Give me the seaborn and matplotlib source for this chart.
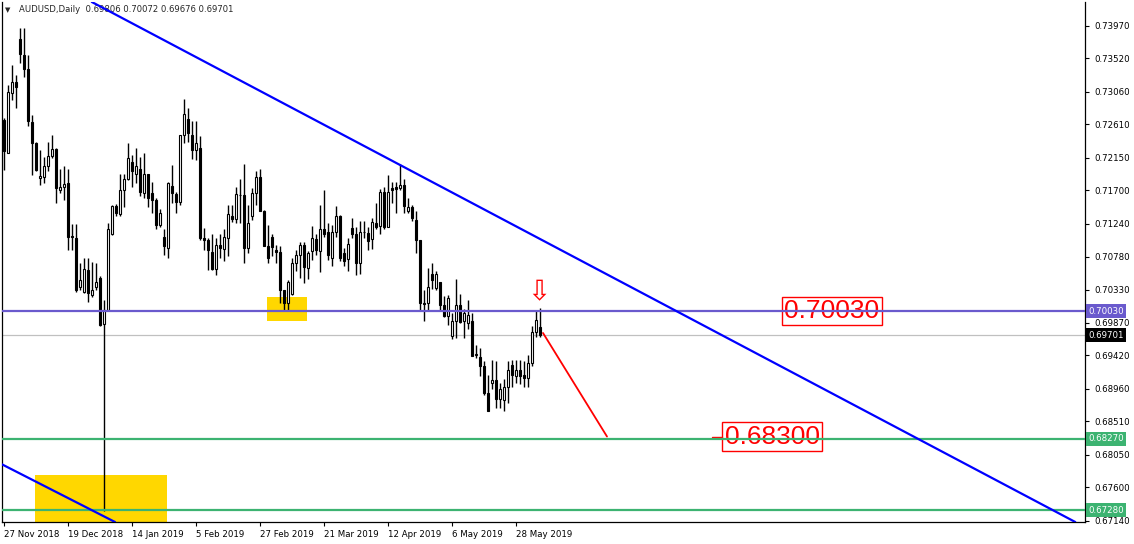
import numpy as np
import matplotlib
matplotlib.use("Agg")
import matplotlib.pyplot as plt
import matplotlib.transforms as mtransforms
from matplotlib.patches import Rectangle
import seaborn as sns

# daily AUDUSD candles, 27 Nov 2018 -> early Jun 2019
opens = [0.7267, 0.7222, 0.7304, 0.7320, 0.7379, 0.7357, 0.7337, 0.7264, 0.7236, 0.7187,
         0.7189, 0.7203, 0.7217, 0.7227, 0.7170, 0.7175, 0.7180, 0.7107, 0.7104, 0.7037,
         0.7030, 0.7060, 0.7025, 0.7037, 0.7049, 0.6985, 0.7005, 0.7109, 0.7148, 0.7137,
         0.7170, 0.7185, 0.7209, 0.7193, 0.7200, 0.7166, 0.7192, 0.7166, 0.7157, 0.7122,
         0.7106, 0.7091, 0.7176, 0.7165, 0.7154, 0.7246, 0.7268, 0.7246, 0.7226, 0.7229,
         0.7104, 0.7101, 0.7085, 0.7061, 0.7095, 0.7089, 0.7104, 0.7134, 0.7130, 0.7163,
         0.7163, 0.7090, 0.7134, 0.7166, 0.7188, 0.7142, 0.7093, 0.7106, 0.7088, 0.7085,
         0.7033, 0.7014, 0.7027, 0.7070, 0.7081, 0.7095, 0.7063, 0.7086, 0.7103, 0.7086,
         0.7116, 0.7112, 0.7076, 0.7112, 0.7135, 0.7084, 0.7075, 0.7118, 0.7110, 0.7070,
         0.7113, 0.7111, 0.7103, 0.7125, 0.7121, 0.7168, 0.7120, 0.7173, 0.7174, 0.7173,
         0.7178, 0.7142, 0.7147, 0.7129, 0.7102, 0.7014, 0.7014, 0.7055, 0.7035, 0.7043,
         0.7012, 0.6996, 0.6969, 0.6989, 0.7011, 0.6989, 0.6987, 0.6989, 0.6942, 0.6940,
         0.6928, 0.6890, 0.6904, 0.6908, 0.6882, 0.6881, 0.6898, 0.6929, 0.6913, 0.6922,
         0.6915, 0.6911, 0.6931, 0.6974, 0.69806]
highs = [0.7270, 0.7316, 0.7343, 0.7329, 0.7394, 0.7394, 0.7357, 0.7274, 0.7237, 0.7226,
         0.7216, 0.7237, 0.7247, 0.7229, 0.7200, 0.7204, 0.7200, 0.7124, 0.7124, 0.7069,
         0.7076, 0.7077, 0.7071, 0.7069, 0.7051, 0.7019, 0.7125, 0.7150, 0.7151, 0.7193,
         0.7193, 0.7235, 0.7219, 0.7228, 0.7216, 0.7221, 0.7193, 0.7181, 0.7159, 0.7144,
         0.7116, 0.7181, 0.7205, 0.7167, 0.7246, 0.7296, 0.7284, 0.7265, 0.7265, 0.7245,
         0.7118, 0.7104, 0.7109, 0.7104, 0.7109, 0.7116, 0.7150, 0.7150, 0.7174, 0.7185,
         0.7207, 0.7150, 0.7173, 0.7196, 0.7199, 0.7143, 0.7122, 0.7109, 0.7094, 0.7093,
         0.7033, 0.7046, 0.7076, 0.7088, 0.7099, 0.7099, 0.7086, 0.7121, 0.7109, 0.7150,
         0.7170, 0.7125, 0.7122, 0.7149, 0.7136, 0.7090, 0.7104, 0.7132, 0.7120, 0.7127,
         0.7127, 0.7119, 0.7132, 0.7152, 0.7172, 0.7175, 0.7191, 0.7182, 0.7182, 0.7207,
         0.7185, 0.7159, 0.7150, 0.7141, 0.7102, 0.7033, 0.7063, 0.7070, 0.7058, 0.7044,
         0.7024, 0.7026, 0.7001, 0.7047, 0.7027, 0.7006, 0.7018, 0.7001, 0.6957, 0.6952,
         0.6934, 0.6915, 0.6935, 0.6934, 0.6904, 0.6909, 0.6934, 0.6936, 0.6935, 0.6935,
         0.6934, 0.6943, 0.6982, 0.7005, 0.70072]
lows = [0.7198, 0.7221, 0.7295, 0.7283, 0.7346, 0.7326, 0.7259, 0.7191, 0.7197, 0.7178,
        0.7180, 0.7196, 0.7215, 0.7152, 0.7166, 0.7157, 0.7087, 0.7087, 0.7030, 0.7032,
        0.7028, 0.7016, 0.7023, 0.7032, 0.6982, 0.6727, 0.7003, 0.7108, 0.7134, 0.7134,
        0.7147, 0.7184, 0.7175, 0.7180, 0.7162, 0.7159, 0.7147, 0.7139, 0.7116, 0.7120,
        0.7081, 0.7076, 0.7152, 0.7138, 0.7150, 0.7235, 0.7237, 0.7213, 0.7212, 0.7101,
        0.7088, 0.7060, 0.7060, 0.7053, 0.7076, 0.7073, 0.7079, 0.7126, 0.7125, 0.7125,
        0.7070, 0.7083, 0.7129, 0.7150, 0.7141, 0.7093, 0.7070, 0.7079, 0.7070, 0.7014,
        0.7005, 0.7003, 0.7026, 0.7058, 0.7049, 0.7042, 0.7047, 0.7074, 0.7081, 0.7057,
        0.7106, 0.7074, 0.7065, 0.7106, 0.7072, 0.7065, 0.7058, 0.7104, 0.7053, 0.7054,
        0.7104, 0.7088, 0.7089, 0.7116, 0.7109, 0.7116, 0.7119, 0.7152, 0.7139, 0.7171,
        0.7138, 0.7138, 0.7128, 0.7083, 0.7005, 0.6989, 0.7005, 0.7034, 0.7033, 0.7005,
        0.6995, 0.6984, 0.6964, 0.6966, 0.6987, 0.6966, 0.6978, 0.6941, 0.6938, 0.6913,
        0.6888, 0.6865, 0.6895, 0.6869, 0.6869, 0.6865, 0.6876, 0.6899, 0.6904, 0.6902,
        0.6899, 0.6899, 0.6928, 0.6968, 0.69676]
closes = [0.7224, 0.7306, 0.7320, 0.7313, 0.7358, 0.7337, 0.7265, 0.7235, 0.7198, 0.7190,
          0.7204, 0.7217, 0.7227, 0.7173, 0.7175, 0.7179, 0.7106, 0.7105, 0.7032, 0.7046,
          0.7062, 0.7028, 0.7032, 0.7043, 0.6984, 0.7005, 0.7116, 0.7148, 0.7139, 0.7171,
          0.7185, 0.7214, 0.7196, 0.7203, 0.7167, 0.7192, 0.7160, 0.7157, 0.7122, 0.7138,
          0.7093, 0.7180, 0.7166, 0.7154, 0.7246, 0.7275, 0.7249, 0.7226, 0.7235, 0.7104,
          0.7101, 0.7087, 0.7062, 0.7095, 0.7090, 0.7106, 0.7137, 0.7130, 0.7165, 0.7164,
          0.7090, 0.7125, 0.7166, 0.7188, 0.7141, 0.7093, 0.7077, 0.7092, 0.7085, 0.7033,
          0.7014, 0.7044, 0.7070, 0.7081, 0.7095, 0.7064, 0.7083, 0.7104, 0.7088, 0.7116,
          0.7110, 0.7081, 0.7112, 0.7134, 0.7076, 0.7072, 0.7096, 0.7110, 0.7070, 0.7112,
          0.7112, 0.7100, 0.7126, 0.7120, 0.7168, 0.7120, 0.7168, 0.7171, 0.7172, 0.7177,
          0.7148, 0.7147, 0.7132, 0.7101, 0.7014, 0.7013, 0.7036, 0.7046, 0.7054, 0.7012,
          0.6997, 0.7021, 0.6989, 0.7011, 0.6988, 0.7001, 0.6998, 0.6941, 0.6944, 0.6928,
          0.6890, 0.6865, 0.6908, 0.6882, 0.6896, 0.6898, 0.6922, 0.6915, 0.6922, 0.6914,
          0.6911, 0.6932, 0.6975, 0.6991, 0.69701]

date_labels = ['27 Nov 2018', '19 Dec 2018', '14 Jan 2019', '5 Feb 2019', '27 Feb 2019',
               '21 Mar 2019', '12 Apr 2019', '6 May 2019', '28 May 2019']
bars_per_label = 16

price_ticks = [0.73970, 0.73520, 0.73060, 0.72610, 0.72150, 0.71700, 0.71240, 0.70780,
               0.70330, 0.69870, 0.69420, 0.68960, 0.68510, 0.68050, 0.67600, 0.67140]

resistance = 0.70030
last_price = 0.69701
supports = [0.68270, 0.67280]
target = 0.68300
title_text = "AUDUSD,Daily  0.69806 0.70072 0.69676 0.69701"

sns.set_theme(style="white")
plt.rcParams['font.family'] = ['DejaVu Sans']

fig = plt.figure(figsize=(11.34, 5.44), dpi=100)
ax = fig.add_axes([2 / 1134, 22 / 544, 1083 / 1134, 520 / 544])

x = np.arange(len(opens))
o = np.array(opens)
c = np.array(closes)
up = c >= o

# highlight boxes (behind candles)
ax.add_patch(Rectangle((7.75, 0.6690), 33, 0.0087, facecolor='#FFD700', edgecolor='none', zorder=1))
ax.add_patch(Rectangle((65.75, 0.69892), 10, 0.00331, facecolor='#FFD700', edgecolor='none', zorder=1))

# candles
ax.vlines(x, lows, highs, color='black', lw=1.0, zorder=3)
ax.bar(x[up], np.maximum((c - o)[up], 0.00003), bottom=o[up], width=0.72,
       color='white', edgecolor='black', lw=0.8, zorder=4)
ax.bar(x[~up], np.maximum((o - c)[~up], 0.00003), bottom=c[~up], width=0.72,
       color='black', edgecolor='black', lw=0.8, zorder=4)

# labels for the key levels (no fill: lines run through them)
big = dict(family=['Liberation Sans', 'DejaVu Sans'], fontsize=19, color='red',
           ha='center', va='center', zorder=5)
ax.text(207, resistance, f'{resistance:.5f}', **big,
        bbox=dict(boxstyle='square,pad=0.08', fc='none', ec='red', lw=1))
ax.text(192, target, f'{target:.5f}', **big,
        bbox=dict(boxstyle='square,pad=0.08', fc='none', ec='red', lw=1))
ax.plot([177, 179.5], [target, target], color='red', lw=1, zorder=5)

# horizontal levels
ax.axhline(resistance, color='#6A5ACD', lw=1.6, zorder=6)
ax.axhline(last_price, color='#C0C0C0', lw=0.9, zorder=2)
for s in supports:
    ax.axhline(s, color='#3CB371', lw=1.6, zorder=6)

# trend lines
ax.axline((99, 0.7205), (227.75, 0.6829), color='#0000FF', lw=1.6, zorder=7)
ax.axline((-1, 0.6793), (27.75, 0.6712), color='#0000FF', lw=1.6, zorder=7)

# projected move
ax.plot([134.75, 150.75], [0.6973, 0.6830], color='red', lw=1.3, zorder=7)
ax.text(133.75, 0.7029, '\u21e9', color='red', fontsize=20, ha='center', va='center', zorder=8)

ax.set_xlim(-0.5, 270.25)
ax.set_ylim(0.6712, 0.7430)

# axes cosmetics
for sp in ax.spines.values():
    sp.set_color('black')
    sp.set_linewidth(0.9)
ax.spines['top'].set_visible(False)

ax.yaxis.tick_right()
ax.set_yticks(price_ticks)
ax.set_yticklabels([f'{p:.5f}' for p in price_ticks], fontsize=6.2)
ax.tick_params(axis='y', right=True, left=False, direction='out', length=3, width=0.8,
               pad=4, colors='black')
ax.set_xticks(np.arange(len(date_labels)) * bars_per_label)
ax.set_xticklabels(date_labels, fontsize=6.2, ha='left')
ax.tick_params(axis='x', bottom=True, direction='out', length=3, width=0.8, pad=3,
               colors='black')

# coloured price tags on the right scale
trans = mtransforms.blended_transform_factory(ax.transAxes, ax.transData)
for val, fc in [(resistance, '#6A5ACD'), (last_price, 'black'),
                (supports[0], '#3CB371'), (supports[1], '#3CB371')]:
    ax.text(1.003, val, f'{val:.5f}', transform=trans, ha='left', va='center',
            fontsize=6.2, color='white', clip_on=False, zorder=10,
            bbox=dict(boxstyle='square,pad=0.3', fc=fc, ec='none'))

# header
ax.text(0.003, 0.985, '\u25bc', transform=ax.transAxes, fontsize=5, ha='left', va='center')
ax.text(0.0155, 0.985, title_text, transform=ax.transAxes, fontsize=6.1,
        ha='left', va='center', zorder=4)

fig.savefig('out.png', dpi=100)
